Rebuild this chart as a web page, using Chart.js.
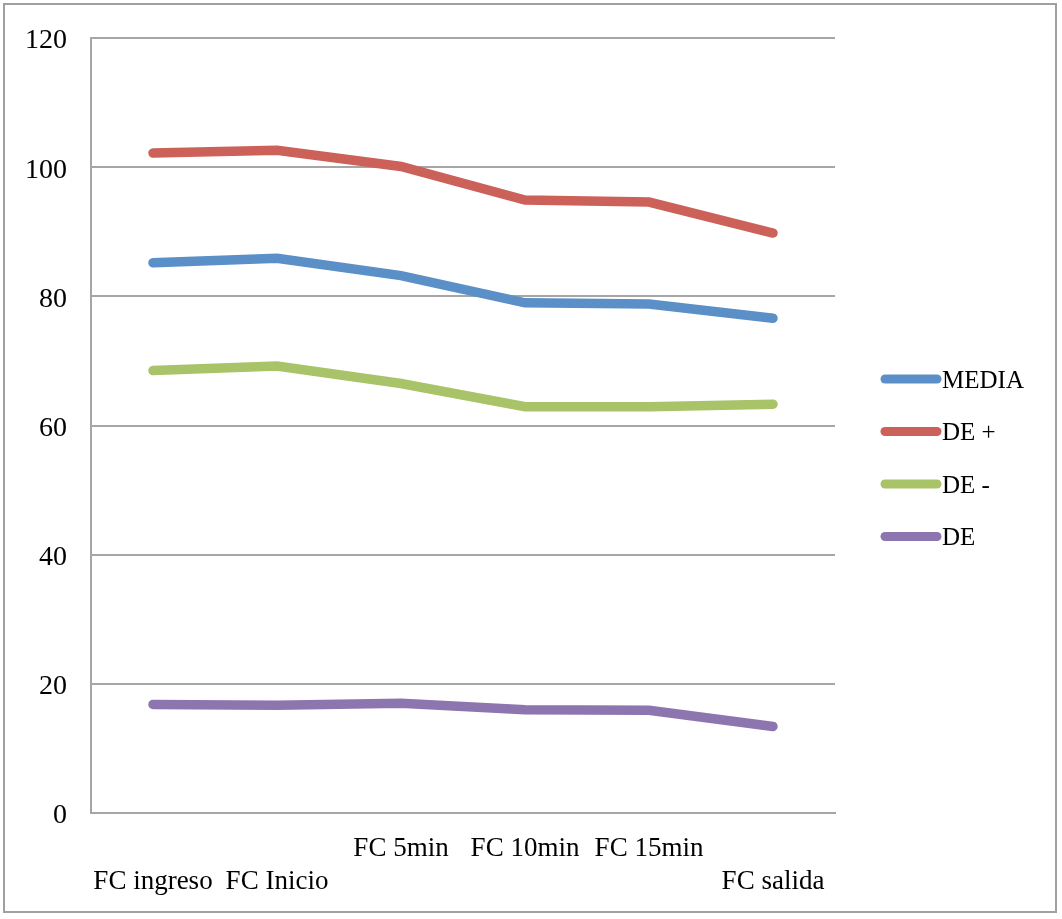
<!DOCTYPE html>
<html>
<head>
<meta charset="utf-8">
<script src="https://cdn.jsdelivr.net/npm/chart.js@4/dist/chart.umd.min.js"></script>
<style>
  html, body { margin: 0; padding: 0; background: #ffffff; }
  #wrap { width: 1062px; height: 919px; position: relative; }
</style>
</head>
<body>
<div id="wrap"><canvas id="chart" width="1062" height="919"></canvas></div>
<script>
// Heart-rate readings across the session
const categories = ['FC ingreso', 'FC Inicio', 'FC 5min', 'FC 10min', 'FC 15min', 'FC salida'];
// 0 = lower label row, 1 = upper label row
const labelRow = [0, 0, 1, 1, 1, 0];

const media   = [85.2, 85.9, 83.2, 79.0, 78.8, 76.6];
const dePlus  = [102.2, 102.6, 100.1, 94.9, 94.6, 89.8];
const deMinus = [68.5, 69.2, 66.5, 62.9, 62.9, 63.3];
const de      = [16.8, 16.7, 17.0, 16.0, 15.9, 13.4];

const yTicks = [0, 20, 40, 60, 80, 100, 120];

const seriesNames  = ['MEDIA', 'DE +', 'DE -', 'DE'];
const seriesColors = ['#5b8fc7', '#cb6159', '#a8c368', '#8d76b0'];

const FONT = '"Liberation Serif", "DejaVu Serif", serif';
const GRID = '#a6a6a6';

function makeSet(i, values) {
  return {
    label: seriesNames[i],
    data: values,
    borderColor: seriesColors[i],
    backgroundColor: seriesColors[i],
    borderWidth: 9.5,
    borderCapStyle: 'round',
    borderJoinStyle: 'miter',
    pointRadius: 0,
    pointHoverRadius: 0,
    tension: 0,
    fill: false
  };
}

// Outer frame around the whole figure
const framePlugin = {
  id: 'frame',
  afterDraw(chart) {
    const ctx = chart.ctx;
    ctx.save();
    ctx.strokeStyle = '#a0a0a0';
    ctx.lineWidth = 2;
    ctx.strokeRect(4, 4, 1052, 908);
    ctx.restore();
  }
};

// Legend drawn at the right of the plot, one line swatch per series
const sideLegend = {
  id: 'sideLegend',
  afterDraw(chart) {
    const ctx = chart.ctx;
    ctx.save();
    ctx.font = '25px ' + FONT;
    ctx.textBaseline = 'middle';
    ctx.textAlign = 'left';
    chart.data.datasets.forEach((ds, i) => {
      const y = 379 + i * 52.5;
      ctx.strokeStyle = ds.borderColor;
      ctx.lineWidth = 9;
      ctx.lineCap = 'round';
      ctx.beginPath();
      ctx.moveTo(885, y);
      ctx.lineTo(937, y);
      ctx.stroke();
      ctx.fillStyle = '#000000';
      ctx.fillText(ds.label, 942, y + 2);
    });
    ctx.restore();
  }
};

new Chart(document.getElementById('chart'), {
  type: 'line',
  data: {
    labels: categories,
    datasets: [makeSet(0, media), makeSet(1, dePlus), makeSet(2, deMinus), makeSet(3, de)]
  },
  options: {
    responsive: false,
    animation: false,
    events: [],
    layout: { padding: { top: 38, right: 227, left: 0, bottom: 0 } },
    plugins: {
      legend: { display: false },
      tooltip: { enabled: false },
      title: { display: false }
    },
    scales: {
      x: {
        type: 'category',
        offset: true,
        grid: { display: false, drawTicks: false },
        border: { display: true, color: GRID, width: 2 },
        ticks: {
          autoSkip: false,
          maxRotation: 0,
          minRotation: 0,
          padding: 19,
          color: '#000000',
          font: { family: FONT, size: 27, lineHeight: 1.22 },
          callback(value, index) {
            const name = categories[index];
            return labelRow[index] === 1 ? [name, ''] : ['', name];
          }
        },
        afterFit(scale) {
          scale.height = 106;
          scale.paddingLeft = 0;
          scale.paddingRight = 0;
        }
      },
      y: {
        min: 0,
        max: 120,
        afterBuildTicks(scale) { scale.ticks = yTicks.map(v => ({ value: v })); },
        grid: { color: GRID, lineWidth: 2, drawTicks: false },
        border: { display: true, color: GRID, width: 2 },
        ticks: {
          padding: 24,
          labelOffset: 3,
          color: '#000000',
          font: { family: FONT, size: 28 }
        },
        afterFit(scale) {
          scale.width = 91;
          scale.paddingTop = 0;
          scale.paddingBottom = 0;
        }
      }
    }
  },
  plugins: [framePlugin, sideLegend]
});
</script>
</body>
</html>
